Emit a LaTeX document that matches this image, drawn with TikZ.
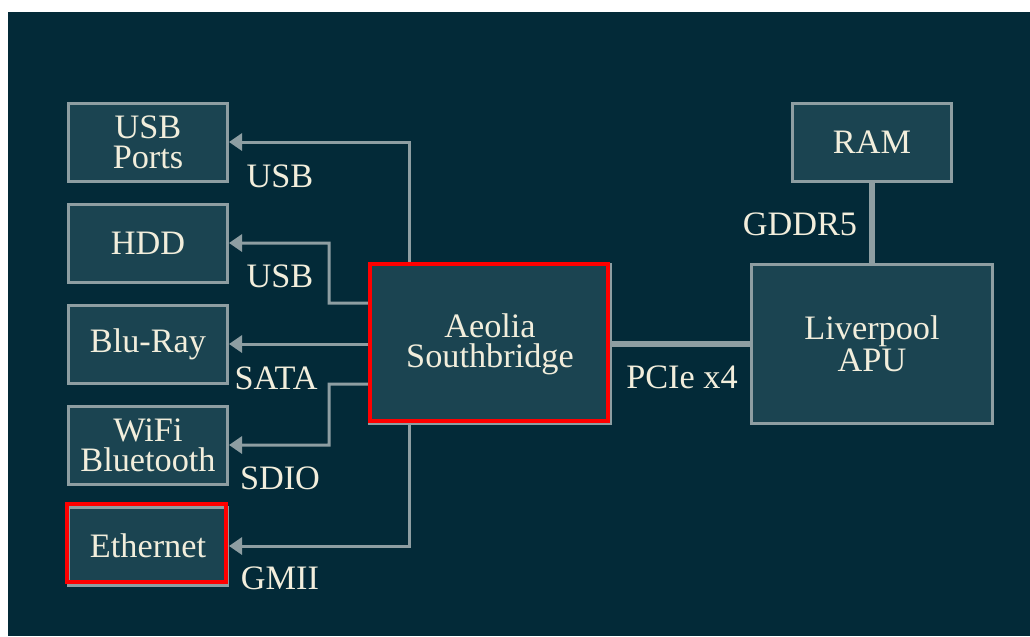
\documentclass[tikz,border=0pt]{standalone}
\usepackage{fontspec}
\setmainfont{Liberation Serif}
\usetikzlibrary{arrows.meta}
\definecolor{bgdark}{HTML}{032A38}
\definecolor{boxfill}{HTML}{1B4451}
\definecolor{wire}{HTML}{8E9EA2}
\definecolor{cream}{HTML}{F2EEDC}

\begin{document}
\begin{tikzpicture}[semithick,>={Triangle[length=0.26cm,width=0.34cm]},node distance=2.02cm]
  \tikzstyle{block}=[draw=wire,fill=boxfill,line width=0.06cm,text=cream,align=center,
    font=\fontsize{19.5}{17}\selectfont,minimum width=3.18cm,minimum height=1.56cm,inner sep=0pt]
  \tikzstyle{big}=[block,minimum width=4.82cm,minimum height=3.18cm]
  \tikzstyle{bus}=[draw=wire,line width=0.06cm,->]
  \tikzstyle{fat}=[draw=wire,line width=0.12cm]
  \tikzstyle{hot}=[draw=red,line width=0.08cm]
  \tikzstyle{lbl}=[text=cream,font=\fontsize{19.5}{17}\selectfont,anchor=base,inner sep=0pt]

  % background
  \fill[white] (0,0) rectangle (20.6,-12.72);
  \fill[bgdark] (0.16,-0.24) rectangle (20.6,-12.72);

  \node [block] (USB) at (2.96,-2.84) {USB\\Ports};
  \node [block] (HDD) [below of=USB] {HDD};
  \node [block] (BD) [below of=HDD] {Blu-Ray};
  \node [block] (WF) [below of=BD] {WiFi\\Bluetooth};
  \node [block] (ETH) [below of=WF] {Ethernet};
  \node [big] (SB) [right of=BD,node distance=6.84cm] {Aeolia\\Southbridge};
  \node [big] (APU) [right of=SB,node distance=7.64cm] {Liverpool\\APU};
  \node [block] (RAM) [above of=APU,node distance=4.04cm] {RAM};

  % buses
  \draw [bus] ([xshift=-1.62cm]SB.north) |- (USB);
  \draw [bus] ([yshift=0.82cm]SB.west) -| (6.58,-4.86) -- (HDD);
  \draw [bus] (SB) -- (BD);
  \draw [bus] ([yshift=-0.8cm]SB.west) -| (6.58,-8.90) -- (WF);
  \draw [bus] ([xshift=-1.62cm]SB.south) |- (ETH);
  \draw [fat] (SB) -- (APU);
  \draw [fat] (RAM) -- (APU);

  % highlights
  \draw [hot] ([shift={(0.04cm,-0.02cm)}]SB.north west) rectangle ([shift={(-0.08cm,0.08cm)}]SB.south east);
  \draw [hot] ([shift={(0cm,0.04cm)}]ETH.north west) rectangle ([shift={(-0.06cm,0.1cm)}]ETH.south east);

  \node [lbl] (l1) at (5.6,-3.74) {USB};
  \node [lbl] (l2) at (5.6,-5.74) {USB};
  \node [lbl] (l3) at (5.52,-7.78) {SATA};
  \node [lbl] (l4) at (5.6,-9.78) {SDIO};
  \node [lbl] (l5) at (5.6,-11.78) {GMII};
  \node [lbl] (l6) at (13.64,-7.76) {PCIe x4};
  \node [lbl] (l7) at (16.0,-4.7) {GDDR5};
\end{tikzpicture}
\end{document}
